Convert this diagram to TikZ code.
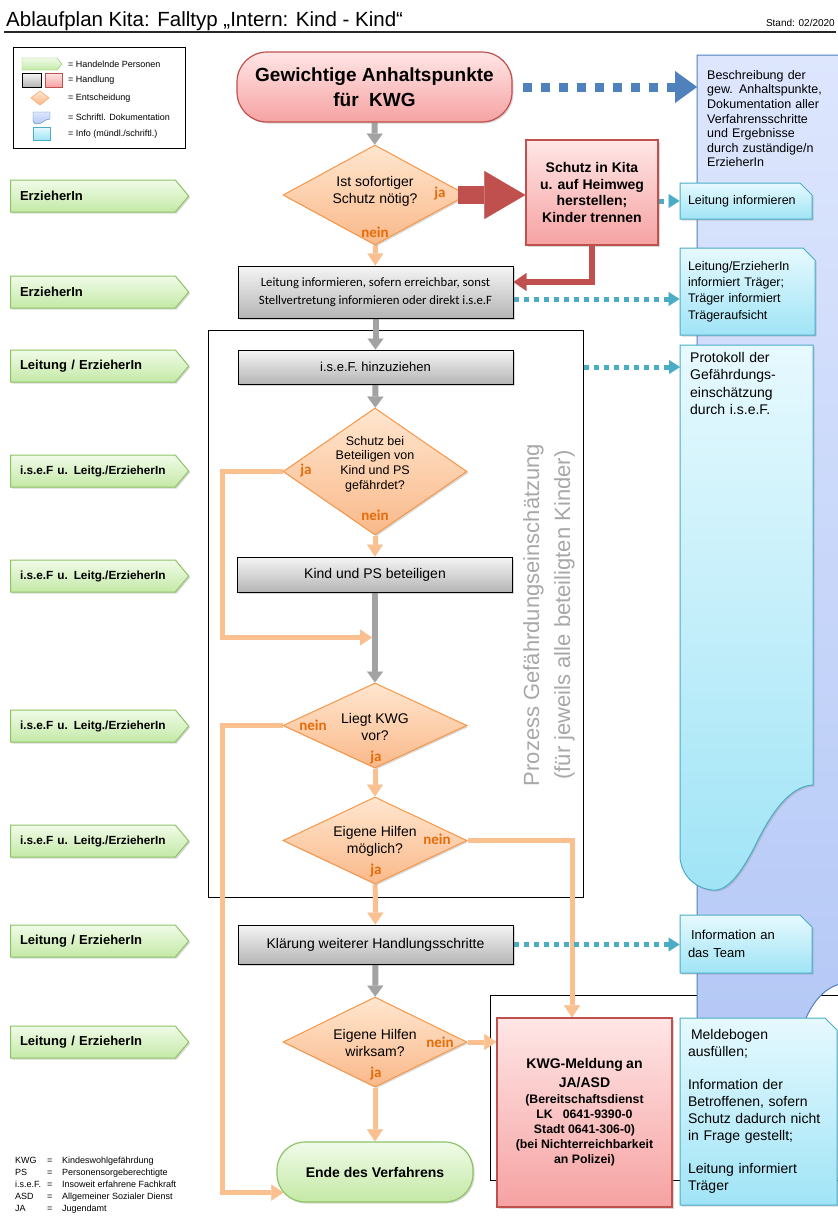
\documentclass[tikz,border=0pt]{standalone}
\usepackage{fontspec}
\setmainfont{Liberation Sans}
\newfontfamily\carl{Carlito}
\usetikzlibrary{arrows.meta,shapes.geometric,shapes.misc,shapes.symbols,shadows,calc}
\pgfdeclarelayer{bg}
\pgfdeclarelayer{edges}
\pgfsetlayers{bg,edges,main}
\newcommand\fsz[2]{\fontsize{#1}{#2}\selectfont}
\definecolor{pinkT}{HTML}{FFE6E6}
\definecolor{pinkB}{HTML}{F6A2A2}
\definecolor{redL}{HTML}{C0504D}
\definecolor{grayT}{HTML}{F5F5F5}
\definecolor{grayB}{HTML}{B5B5B5}
\definecolor{orT}{HTML}{FFE6CF}
\definecolor{orB}{HTML}{FAB98A}
\definecolor{orL}{HTML}{F79646}
\definecolor{orArr}{HTML}{FAC090}
\definecolor{orTxt}{HTML}{E46C0A}
\definecolor{grT}{HTML}{F0FBE8}
\definecolor{grB}{HTML}{C4E9A6}
\definecolor{grL}{HTML}{8DC365}
\definecolor{cyT}{HTML}{E6F9FE}
\definecolor{cyB}{HTML}{A0E4F6}
\definecolor{cyL}{HTML}{4BACC6}
\definecolor{blT}{HTML}{DDE6FD}
\definecolor{blB}{HTML}{B4C8F6}
\definecolor{blL}{HTML}{4F81BD}
\definecolor{grayArr}{HTML}{A3A3A3}
\definecolor{procTxt}{HTML}{A8A8A8}

\begin{document}
\begin{tikzpicture}[x=1pt,y=-1pt,
  sh/.style={drop shadow={shadow xshift=1.5pt,shadow yshift=-1.5pt,opacity=0.3}},
  startbox/.style={draw=redL,line width=1.2pt,top color=pinkT,bottom color=pinkB,rounded corners=30pt,sh,align=center,font=\bfseries\fsz{19}{25}},
  endbox/.style={draw=grL,line width=1.2pt,top color=grT,bottom color=grB,rounded corners=28pt,sh,align=center,font=\bfseries\fsz{14}{17}},
  act/.style={draw=black,line width=1pt,top color=grayT,bottom color=grayB,sh,minimum width=275pt,align=center},
  actred/.style={draw=redL,line width=1.2pt,top color=pinkT,bottom color=pinkB,sh,align=center},
  dec/.style={diamond,draw=orL,line width=1pt,top color=orT,bottom color=orB,minimum width=184pt,inner sep=0pt,sh},
  dtext/.style={align=center,font=\fsz{14}{17}},
  yn/.style={text=orTxt,font=\carl\bfseries\fsz{15}{17},inner sep=0pt},
  actor/.style={signal,signal to=east,signal pointer angle=100,draw=grL,line width=1pt,top color=grT,bottom color=grB,minimum width=178pt,minimum height=32pt,text width=146pt,align=left,font=\bfseries\fsz{13}{15},sh},
  info/.style={chamfered rectangle,chamfered rectangle corners=north east,chamfered rectangle xsep=6pt,chamfered rectangle ysep=6pt,inner sep=2pt,draw=cyL,line width=1pt,top color=cyT,bottom color=cyB,sh,align=left},
  garr/.style={draw=grayArr,line width=6pt,-{Triangle[length=11pt,width=16pt,line width=0.1pt]}},
  oarr/.style={draw=orArr,line width=5pt,-{Triangle[length=12pt,width=16pt,line width=0.1pt]}},
  rbig/.style={draw=redL,line width=18pt,-{Triangle[length=41pt,width=48pt,line width=0.1pt]}},
  rarr/.style={draw=redL,line width=6pt,-{Triangle[length=13pt,width=18pt,line width=0.1pt]}},
  barr/.style={draw=blL,line width=9pt,dash pattern=on 9pt off 9pt,-{Triangle[length=22pt,width=32pt,line width=0.1pt]}},
  carr/.style={draw=cyL,line width=5pt,dash pattern=on 5pt off 5pt,-{Triangle[length=11pt,width=14pt,line width=0.1pt]}},
  legtxt/.style={anchor=west,font=\fsz{9}{11},inner sep=0pt}
]
\useasboundingbox (0,0) rectangle (838,1224);

% frames and documentation shapes (lowest layer)
\begin{pgfonlayer}{bg}
  \fill[white] (0,0) rectangle (838,1224);
  \node[draw=black,line width=1pt,minimum width=375pt,minimum height=567pt,inner sep=0pt] (proc) at (395.5,613.5) {};
  \draw[line width=1pt] (490,995) rectangle (860,1180);
  \path[draw=blL,line width=1pt,top color=blT,bottom color=blB]
    (697,55) -- (850,55) -- (850,982)
    .. controls (828,984) and (815,998) .. (806,1018)
    .. controls (795,1042) and (760,1050) .. (730,1042) -- (697,1035) -- cycle;
  \path[draw=cyL,line width=1pt,top color=cyT,bottom color=cyB,sh]
    (680,345) -- (813,345) -- (813,785)
    .. controls (790,786) and (772,812) .. (757,842)
    .. controls (742,872) and (728,892) .. (712,890)
    .. controls (695,888) and (682,876) .. (680,858) -- cycle;
\end{pgfonlayer}

% heading
\node[anchor=base west,font=\fsz{20.5}{24},inner sep=0pt] (title) at (6,26) {Ablaufplan Kita: Falltyp „Intern: Kind - Kind“};
\node[anchor=base east,font=\fsz{10}{12},inner sep=0pt] (stand) at (835,26) {Stand: 02/2020};
\draw[line width=1.6pt,black!85] (4,32) -- (836,32);

\node[anchor=north west,inner xsep=10pt,inner ysep=0pt,text width=130pt,align=left,font=\fsz{12.5}{14.6}] (doc) at (697,70)
  {Beschreibung der\\gew. Anhaltspunkte,\\Dokumentation aller\\Verfahrensschritte\\und Ergebnisse\\durch zuständige/n\\ErzieherIn};
\node[anchor=north west,inner xsep=10pt,inner ysep=0pt,text width=115pt,align=left,font=\fsz{14}{17.5}] (protT) at (680,352)
  {Protokoll der\\Gefährdungs-\\einschätzung\\durch i.s.e.F.};

\node[rotate=90,align=center,text=procTxt,font=\fsz{22}{31}] (ptxt) at (549,615)
  {Prozess Gefährdungseinschätzung\\(für jeweils alle beteiligten Kinder)};

% main flow
\node[startbox,minimum width=275pt,minimum height=70pt] (anh) at (374.5,87) {Gewichtige Anhaltspunkte\\für\ \ KWG};
\node[dec,minimum height=100pt,label={[dtext,yshift=4pt]center:{Ist sofortiger\\Schutz nötig?}}] (d1) at (375,195) {};
\node[actred,minimum width=132pt,minimum height=105pt,font=\bfseries\fsz{14}{16.5}] (pink) at (592,192.5) {Schutz in Kita\\u. auf Heimweg\\herstellen;\\Kinder trennen};
\node[act,minimum height=52pt,font=\carl\fsz{12.7}{18}] (inf) at (375.5,292) {Leitung informieren, sofern erreichbar, sonst\\Stellvertretung informieren oder direkt i.s.e.F};
\node[act,minimum height=34pt,font=\fsz{13}{15}] (hinz) at (375.5,367) {i.s.e.F. hinzuziehen};
\node[dec,minimum height=127pt,label={[dtext,font=\fsz{12.5}{14.7},yshift=7.5pt]center:{Schutz bei\\Beteiligen von\\Kind und PS\\gefährdet?}}] (d2) at (375,471.5) {};
\node[act,minimum height=35pt,font=\fsz{14}{16}] (beteil) at (375,574.5) {Kind und PS beteiligen};
\node[dec,minimum height=85pt,label={[dtext,yshift=-1pt]center:{Liegt KWG\\vor?}}] (d3) at (375,725.5) {};
\node[dec,minimum height=87pt,label={[dtext,yshift=-1pt]center:{Eigene Hilfen\\möglich?}}] (d4) at (375,840.5) {};
\node[act,minimum height=39pt,font=\fsz{14}{16}] (klaer) at (375.5,944.5) {Klärung weiterer Handlungsschritte};
\node[dec,minimum height=90pt,label={[dtext,yshift=-1pt]center:{Eigene Hilfen\\wirksam?}}] (d5) at (375,1042) {};
\node[actred,minimum width=175pt,minimum height=189pt,text width=164pt] (kwg) at (584.5,1112.5)
  {\fsz{14}{19}\bfseries KWG-Meldung an\\JA/ASD\par
   \fsz{12.3}{15.2}\bfseries (Bereitschaftsdienst\\LK\ \ \ 0641-9390-0\\Stadt 0641-306-0)\\(bei Nichterreichbarkeit\\an Polizei)\par\vspace{20pt}};
\node[endbox,minimum width=196pt,minimum height=60pt] (ende) at (375,1172) {Ende des Verfahrens};

% yes / no marks
\node[yn] (d1ja) at (440,193) {ja};
\node[yn] (d1nein) at (375,232) {nein};
\node[yn] (d2ja) at (306,470) {ja};
\node[yn] (d2nein) at (375,515) {nein};
\node[yn] (d3nein) at (313,725) {nein};
\node[yn] (d3ja) at (376,757) {ja};
\node[yn] (d4nein) at (437,839) {nein};
\node[yn] (d4ja) at (376,870) {ja};
\node[yn] (d5nein) at (440,1042) {nein};
\node[yn] (d5ja) at (376,1073) {ja};

% information boxes
\node[info,minimum width=132pt,minimum height=36pt,text width=116pt,font=\fsz{12.5}{14}] (linf) at (746,201) {Leitung informieren};
\node[info,minimum width=135pt,minimum height=87pt,text width=119pt,font=\fsz{12.5}{16.4}] (trag) at (747.5,291.5) {Leitung/ErzieherIn\\informiert Träger;\\Träger informiert\\Trägeraufsicht};
\node[info,minimum width=132pt,minimum height=58pt,text width=116pt,font=\fsz{13}{17.5}] (team) at (746,944) {\hspace{3pt}Information an\\das Team};
\node[info,minimum width=157pt,minimum height=187pt,text width=141pt,font=\fsz{14}{16.8}] (meld) at (758.5,1111.5)
  {\hspace{3pt}Meldebogen\\ausfüllen;\\[16.8pt]Information der\\Betroffenen, sofern\\Schutz dadurch nicht\\in Frage gestellt;\\[16.8pt]Leitung informiert\\Träger};

% acting persons
\node[actor] (a1) at (93,196) {ErzieherIn};
\node[actor] (a2) at (93,292) {ErzieherIn};
\node[actor] (a3) at (93,366) {Leitung / ErzieherIn};
\node[actor,font=\bfseries\fsz{11.8}{13}] (a4) at (93,471) {i.s.e.F u. Leitg./ErzieherIn};
\node[actor,font=\bfseries\fsz{11.8}{13}] (a5) at (93,576) {i.s.e.F u. Leitg./ErzieherIn};
\node[actor,font=\bfseries\fsz{11.8}{13}] (a6) at (93,726) {i.s.e.F u. Leitg./ErzieherIn};
\node[actor,font=\bfseries\fsz{11.8}{13}] (a7) at (93,841) {i.s.e.F u. Leitg./ErzieherIn};
\node[actor] (a8) at (93,941) {Leitung / ErzieherIn};
\node[actor] (a9) at (93,1042) {Leitung / ErzieherIn};

% helper points for the side lane
\coordinate (laneL) at (222,0);
\coordinate (joinP) at ($(beteil.south)+(-3,45)$);
\coordinate (endIn) at ($(ende.south west)+(7,-10)$);

% connectors
\begin{pgfonlayer}{edges}
  \draw[garr] (anh) -- (d1);
  \draw[oarr] (d1) -- (inf);
  \draw[garr] (inf) -- (hinz);
  \draw[garr] (hinz) -- (d2);
  \draw[oarr] (d2) -- (beteil);
  \draw[garr] (beteil) -- (d3);
  \draw[oarr] (d2.west) -| (laneL |- joinP) -- (joinP);
  \draw[oarr] (d3) -- (d4);
  \draw[oarr] (d3.west) -| (laneL |- endIn) -- (endIn);
  \draw[oarr] (d4) -- (klaer);
  \draw[oarr] (d4.east) -| ([xshift=-12.5pt]kwg.north);
  \draw[garr] (klaer) -- (d5);
  \draw[oarr] (d5.east) -- (d5.east -| kwg.west);
  \draw[oarr] (d5) -- (ende);
  \draw[rarr] (pink.south) |- ([yshift=10pt]inf.east);
  \draw[barr,shorten <=10pt] (anh.east) -- (anh.east -| doc.west);
  \draw[carr] (pink.east |- linf) -- (linf.west);
  \draw[carr] ([yshift=-7pt]inf.east) -- ([yshift=-7pt]inf.east -| trag.west);
  \draw[carr] (proc.east |- hinz) -- (hinz -| protT.west);
  \draw[carr] (klaer.east) -- (klaer.east -| team.west);
\end{pgfonlayer}
% the wide red arrow runs from the tip of the first decision into the protection box
\draw[rbig] ([xshift=-10pt]d1.east) -- (d1.east -| pink.west);

% legend
\draw[line width=1pt] (13,47) rectangle (185,148);
\draw[draw=grL,top color=grT,bottom color=grB] (22,58) -- (57,58) -- (62,64) -- (57,70) -- (22,70) -- cycle;
\draw[draw=black,top color=grayT,bottom color=grayB] (22,73) rectangle (41,87);
\draw[draw=redL,top color=pinkT,bottom color=pinkB] (45,73) rectangle (62,87);
\draw[draw=orL,top color=orT,bottom color=orB] (31,98) -- (40,91) -- (49,98) -- (40,105) -- cycle;
\draw[draw=blL,top color=blT,bottom color=blB] (33,112) -- (50,112) -- (50,119) .. controls (44,119) and (43,124) .. (37,124) .. controls (35,124) and (33,123) .. (33,121) -- cycle;
\draw[draw=cyL,top color=cyT,bottom color=cyB] (33,127) rectangle (50,140);
\node[legtxt] (l1) at (68,64) {= Handelnde Personen};
\node[legtxt] (l2) at (68,80) {= Handlung};
\node[legtxt] (l3) at (68,98) {= Entscheidung};
\node[legtxt] (l4) at (68,117) {= Schriftl. Dokumentation};
\node[legtxt] (l5) at (68,134) {= Info (mündl./schriftl.)};

% abbreviations
\node[anchor=north west,align=left,inner sep=0pt,font=\fsz{9}{12}] (abbr) at (15,1157)
  {\makebox[32pt][l]{KWG}\makebox[15pt][l]{=}Kindeswohlgefährdung\\
   \makebox[32pt][l]{PS}\makebox[15pt][l]{=}Personensorgeberechtigte\\
   \makebox[32pt][l]{i.s.e.F.}\makebox[15pt][l]{=}Insoweit erfahrene Fachkraft\\
   \makebox[32pt][l]{ASD}\makebox[15pt][l]{=}Allgemeiner Sozialer Dienst\\
   \makebox[32pt][l]{JA}\makebox[15pt][l]{=}Jugendamt};
\end{tikzpicture}
\end{document}
